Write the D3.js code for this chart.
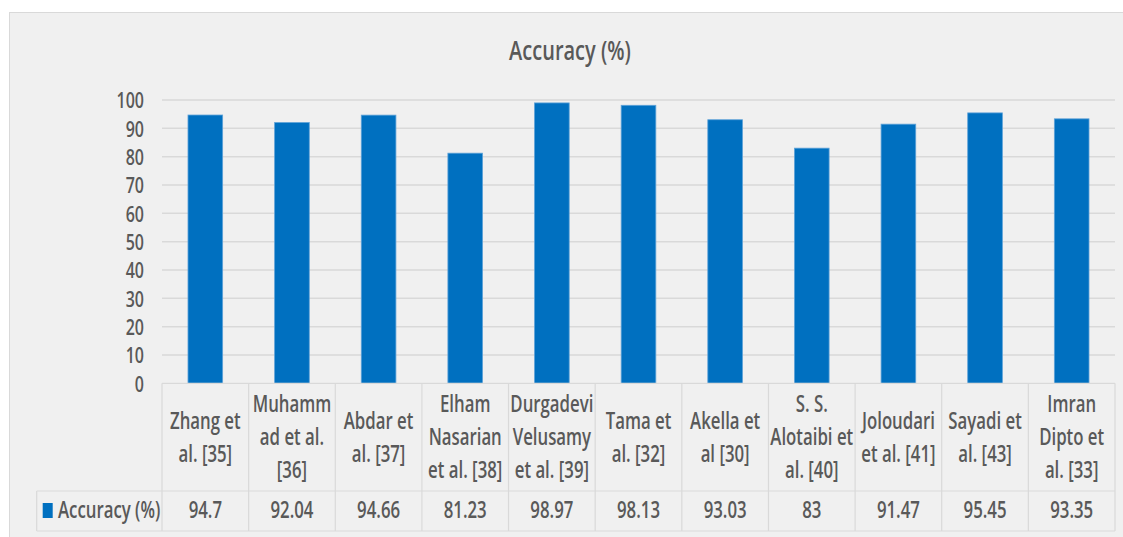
<!DOCTYPE html>
<meta charset="utf-8">
<style>
body { margin: 0; background: #fff; }
text { font-family: "Open Sans", sans-serif; font-weight: 600; fill: #595959; }
.grid line { stroke: #d9d9d9; stroke-width: 1.5px; }
.tbl { stroke: #d9d9d9; stroke-width: 1.2px; fill: none; }
</style>
<body>
<svg width="1123" height="537"></svg>
<script src="https://cdnjs.cloudflare.com/ajax/libs/d3/7.8.5/d3.min.js"></script>
<script>

var categories = [
  ["Zhang et", "al. [35]"],
  ["Muhamm", "ad et al.", "[36]"],
  ["Abdar et", "al. [37]"],
  ["Elham", "Nasarian", "et al. [38]"],
  ["Durgadevi", "Velusamy", "et al. [39]"],
  ["Tama et", "al. [32]"],
  ["Akella et", "al [30]"],
  ["S. S.", "Alotaibi et", "al. [40]"],
  ["Joloudari", "et al. [41]"],
  ["Sayadi et", "al. [43]"],
  ["Imran", "Dipto et", "al. [33]"]
];
var accuracy = [94.7, 92.04, 94.66, 81.23, 98.97, 98.13, 93.03, 83, 91.47, 95.45, 93.35];
var valueLabels = ["94.7", "92.04", "94.66", "81.23", "98.97", "98.13", "93.03", "83", "91.47", "95.45", "93.35"];
var yTicks = [0, 10, 20, 30, 40, 50, 60, 70, 80, 90, 100];
var seriesName = "Accuracy (%)";

var sx = 0.8; // squeeze text sideways, the source font is a narrow one
var sy = 1.08; // and it is a bit stretched in height

var svg = d3.select("svg");

function squeeze(sel, px, py) {
  sel.attr("transform", "translate(" + px + "," + py + ") scale(" + sx + "," + sy + ")");
}

// chart background
svg.append("rect")
  .attr("x", 9.5).attr("y", 12.5)
  .attr("width", 1130).attr("height", 540)
  .attr("fill", "#f0f0f0")
  .attr("stroke", "#d9d9d9");

svg.append("text")
  .attr("text-anchor", "middle")
  .style("font-size", "25px")
  .text(seriesName)
  .call(squeeze, 570, 60);

var plotL = 162, plotR = 1115, plotT = 100, plotB = 383.3;
var tableLeft = 36.7, rowMid = 491, tableBottom = 531;

var idx = d3.range(categories.length);
var x = d3.scaleBand().domain(idx).range([plotL, plotR]).paddingInner(0).paddingOuter(0);
var y = d3.scaleLinear().domain([0, 100]).range([plotB, plotT]);

// gridlines
svg.append("g").attr("class", "grid")
  .selectAll("line").data(yTicks.filter(function(d) { return d > 0; }))
  .enter().append("line")
  .attr("x1", plotL).attr("x2", plotR)
  .attr("y1", function(d) { return y(d); })
  .attr("y2", function(d) { return y(d); });

// y axis labels
var yAxis = d3.axisLeft(y).tickValues(yTicks).tickSize(0);
var ya = svg.append("g").attr("transform", "translate(" + plotL + ",0)").call(yAxis);
ya.select(".domain").remove();
ya.selectAll("text")
  .attr("x", 0).attr("dy", "0.36em")
  .attr("fill", "#595959")
  .style("font-size", "20px")
  .style("font-family", "'Open Sans', sans-serif")
  .style("font-weight", 600)
  .attr("transform", "translate(-18,0) scale(" + sx + "," + sy + ")");

// bars
var bw = x.bandwidth() * 0.4;
svg.selectAll("rect.bar").data(accuracy)
  .enter().append("rect")
  .attr("class", "bar")
  .attr("x", function(d, i) { return x(i) + (x.bandwidth() - bw) / 2; })
  .attr("y", function(d) { return y(d); })
  .attr("width", bw)
  .attr("height", function(d) { return y(0) - y(d); })
  .attr("fill", "#0070c0")
  .attr("stroke", "#5ea2d8")
  .attr("stroke-width", 0.8);

// data table
var t = svg.append("g");
t.append("line").attr("class", "tbl").attr("x1", plotL).attr("x2", plotR).attr("y1", plotB).attr("y2", plotB);
t.append("line").attr("class", "tbl").attr("x1", tableLeft).attr("x2", plotR).attr("y1", rowMid).attr("y2", rowMid);
t.append("line").attr("class", "tbl").attr("x1", tableLeft).attr("x2", plotR).attr("y1", tableBottom).attr("y2", tableBottom);
t.append("line").attr("class", "tbl").attr("x1", tableLeft).attr("x2", tableLeft).attr("y1", rowMid).attr("y2", tableBottom);
t.selectAll("line.v").data(idx.concat([categories.length]))
  .enter().append("line").attr("class", "tbl")
  .attr("x1", function(i) { return i < categories.length ? x(i) : plotR; })
  .attr("x2", function(i) { return i < categories.length ? x(i) : plotR; })
  .attr("y1", plotB).attr("y2", tableBottom);

// category labels
var lh = 30.5; // in scaled units, ~33px on screen
var rowCenter = (plotB + rowMid) / 2;
t.selectAll("text.cat").data(categories)
  .enter().append("text")
  .attr("class", "cat")
  .attr("text-anchor", "middle")
  .style("font-size", "21px")
  .each(function(lines, i) {
    var y0 = rowCenter - (lines.length - 1) * lh * sy / 2 + 8;
    d3.select(this).call(squeeze, x(i) + x.bandwidth() / 2, y0);
    d3.select(this).selectAll("tspan").data(lines).enter().append("tspan")
      .attr("x", 0)
      .attr("y", function(d, k) { return k * lh; })
      .text(function(d) { return d; });
  });

// values row
t.selectAll("text.val").data(valueLabels)
  .enter().append("text")
  .attr("class", "val")
  .attr("text-anchor", "middle")
  .style("font-size", "21px")
  .text(function(d) { return d; })
  .each(function(d, i) { d3.select(this).call(squeeze, x(i) + x.bandwidth() / 2, 518); });

// legend key
t.append("rect").attr("x", 42.7).attr("y", 503).attr("width", 10).attr("height", 15).attr("fill", "#0070c0");
t.append("text").style("font-size", "21px").text(seriesName).call(squeeze, 58, 518);

</script>
</body>
